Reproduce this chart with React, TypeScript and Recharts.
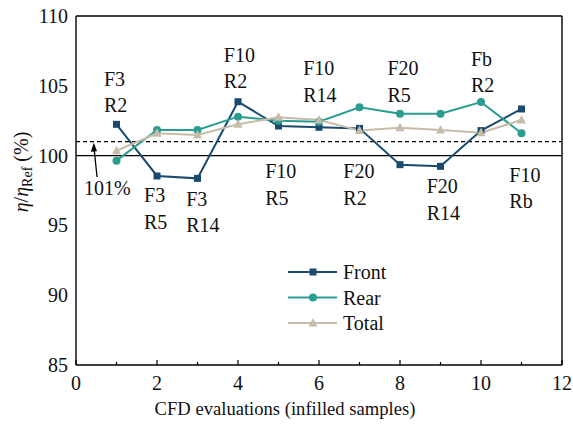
import React from 'react';
import { LineChart, Line, XAxis, YAxis, ReferenceLine, ReferenceDot, Legend } from 'recharts';

const evaluations = [1, 2, 3, 4, 5, 6, 7, 8, 9, 10, 11];
const front = [102.24, 98.54, 98.37, 103.86, 102.12, 102.03, 101.95, 99.35, 99.23, 101.79, 103.34];
const rear = [99.64, 101.83, 101.83, 102.79, 102.5, 102.43, 103.46, 103.0, 103.0, 103.84, 101.6];
const total = [100.35, 101.6, 101.48, 102.24, 102.74, 102.55, 101.79, 102.0, 101.83, 101.64, 102.55];

const xTicks = [0, 1, 2, 3, 4, 5, 6, 7, 8, 9, 10, 11, 12];
const yTicks = [85, 90, 95, 100, 105, 110];

const annotationText = [
  ['F3', 'R2'], ['F3', 'R5'], ['F3', 'R14'], ['F10', 'R2'], ['F10', 'R5'], ['F10', 'R14'],
  ['F20', 'R2'], ['F20', 'R5'], ['F20', 'R14'], ['Fb', 'R2'], ['F10', 'Rb'],
];
const annotationX = [0.69, 1.68, 2.72, 3.65, 4.67, 5.61, 6.6, 7.69, 8.66, 9.75, 10.7];
const annotationY = [104.99, 96.65, 96.41, 106.73, 98.37, 105.77, 98.37, 105.77, 97.3, 106.42, 98.13];

const refLevel = 100;
const thresholdLevel = 101;
const thresholdLabel = '101%';

const COLORS = { Front: '#1a4b6e', Rear: '#2a9d91', Total: '#c7bca9' };
const FONT = 'Liberation Serif';
const TXT: React.CSSProperties = { fontFamily: FONT };

const data = evaluations.map((e, i) => ({ x: e, Front: front[i], Rear: rear[i], Total: total[i] }));

const Square = (props: any) => {
  const { cx, cy, stroke } = props;
  if (cx == null || cy == null) return null;
  return <rect x={cx - 3.5} y={cy - 3.5} width={7} height={7} fill={stroke} />;
};
const Circ = (props: any) => {
  const { cx, cy, stroke } = props;
  if (cx == null || cy == null) return null;
  return <circle cx={cx} cy={cy} r={4} fill={stroke} />;
};
const Tri = (props: any) => {
  const { cx, cy, stroke } = props;
  if (cx == null || cy == null) return null;
  return <polygon points={`${cx},${cy - 5} ${cx - 4.5},${cy + 3.5} ${cx + 4.5},${cy + 3.5}`} fill={stroke} />;
};

const XTick = (props: any) => {
  const { x, y, payload } = props;
  const v = payload.value;
  const major = v % 2 === 0;
  return (
    <g>
      <line x1={x} x2={x} y1={y} y2={y - (major ? 5 : 3)} stroke="#000" strokeWidth={1.2} />
      {major && (
        <text x={x} y={y + 25} textAnchor="middle" fontSize={20} fill="#111" style={TXT}>
          {v}
        </text>
      )}
    </g>
  );
};

const YTick = (props: any) => {
  const { x, y, payload } = props;
  return (
    <text x={x} y={y + 7} textAnchor="end" fontSize={20} fill="#111" style={TXT}>
      {payload.value}
    </text>
  );
};

const YLabel = () => (
  <text transform="rotate(-90, 28, 172)" x={28} y={172} textAnchor="middle" fontSize={20} fill="#111" style={TXT}>
    <tspan fontStyle="italic">η</tspan>
    <tspan>/</tspan>
    <tspan fontStyle="italic">η</tspan>
    <tspan fontSize={14} dy={4}>Ref</tspan>
    <tspan dy={-4}> (%)</tspan>
  </text>
);

const XLabel = () => (
  <text x={285} y={415} textAnchor="middle" fontSize={18.6} fill="#111" style={TXT}>
    CFD evaluations (infilled samples)
  </text>
);

const legendItems = [
  { name: 'Front', Marker: Square },
  { name: 'Rear', Marker: Circ },
  { name: 'Total', Marker: Tri },
];

const LegendContent = () => (
  <svg width={130} height={80} style={{ display: 'block' }}>
    {legendItems.map((it, i) => {
      const cy = 16 + i * 25.5;
      const color = (COLORS as any)[it.name];
      return (
        <g key={it.name}>
          <line x1={4} x2={53} y1={cy} y2={cy} stroke={color} strokeWidth={2} />
          <it.Marker cx={29} cy={cy} stroke={color} />
          <text x={59} y={cy + 7} fontSize={20} fill="#111" style={TXT}>
            {it.name}
          </text>
        </g>
      );
    })}
  </svg>
);

const AnnotationShape = (lines: string[]) => (props: any) => {
  const { cx, cy } = props;
  return (
    <text x={cx} y={cy} fontSize={20} fill="#111" style={TXT} textAnchor="start">
      <tspan x={cx} y={cy}>{lines[0]}</tspan>
      <tspan x={cx} y={cy + 26.5}>{lines[1]}</tspan>
    </text>
  );
};

const ArrowHead = (props: any) => {
  const { cx, cy } = props;
  return <polygon points={`${cx},${cy} ${cx - 3},${cy + 9} ${cx + 3.2},${cy + 8.5}`} fill="#000" />;
};

const ThresholdText = (props: any) => {
  const { cx, cy } = props;
  return (
    <text x={cx} y={cy} fontSize={20} fill="#111" style={TXT}>
      {thresholdLabel}
    </text>
  );
};

export default function App() {
  return (
    <div style={{ position: 'absolute', left: 0, top: 0, background: '#fff', fontFamily: FONT }}>
      <LineChart
        width={573}
        height={432}
        data={data}
        margin={{ top: 16, right: 11, bottom: 0, left: 0 }}
        style={{ fontFamily: FONT }}
      >
        <XAxis
          dataKey="x"
          type="number"
          domain={[0, 12]}
          ticks={xTicks}
          interval={0}
          height={67}
          tickSize={0}
          tickMargin={0}
          tickLine={false}
          tick={<XTick />}
          axisLine={{ stroke: '#000', strokeWidth: 1.4 }}
          label={<XLabel />}
        />
        <YAxis
          type="number"
          domain={[85, 110]}
          ticks={yTicks}
          interval={0}
          width={76}
          tickSize={0}
          tickMargin={8}
          tickLine={false}
          tick={<YTick />}
          axisLine={{ stroke: '#000', strokeWidth: 1.4 }}
          label={<YLabel />}
        />

        <ReferenceLine y={110} stroke="#000" strokeWidth={1.4} ifOverflow="visible" />
        <ReferenceLine x={12} stroke="#000" strokeWidth={1.4} ifOverflow="visible" />
        <ReferenceLine y={refLevel} stroke="#000" strokeWidth={1.3} />
        <ReferenceLine y={thresholdLevel} stroke="#000" strokeWidth={1.3} strokeDasharray="4 3" />

        <Line dataKey="Front" stroke={COLORS.Front} strokeWidth={2} dot={<Square />} activeDot={false} isAnimationActive={false} />
        <Line dataKey="Rear" stroke={COLORS.Rear} strokeWidth={2} dot={<Circ />} activeDot={false} isAnimationActive={false} />
        <Line dataKey="Total" stroke={COLORS.Total} strokeWidth={2} dot={<Tri />} activeDot={false} isAnimationActive={false} />

        <ReferenceLine segment={[{ x: 0.52, y: 98.47 }, { x: 0.45, y: 100.4 }]} stroke="#000" strokeWidth={1.3} ifOverflow="visible" />
        <ReferenceDot x={0.44} y={100.92} r={0} ifOverflow="visible" shape={<ArrowHead />} />
        <ReferenceDot x={0.2} y={97.18} r={0} ifOverflow="visible" shape={<ThresholdText />} />

        {annotationText.map((lines, i) => (
          <ReferenceDot key={i} x={annotationX[i]} y={annotationY[i]} r={0} ifOverflow="visible" shape={AnnotationShape(lines)} />
        ))}

        <Legend
          layout="vertical"
          verticalAlign="middle"
          align="center"
          content={<LegendContent />}
          wrapperStyle={{ left: 284, top: 256, width: 130, height: 80 }}
        />
      </LineChart>
    </div>
  );
}
